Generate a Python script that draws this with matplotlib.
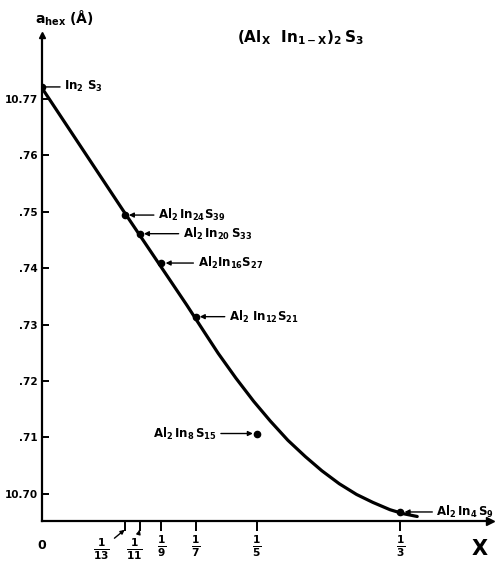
import matplotlib
matplotlib.use('Agg')
import matplotlib.pyplot as plt

plt.rcParams['mathtext.default'] = 'bf'
plt.rcParams['font.weight'] = 'bold'

# measured compositions (x = Al fraction) and lattice parameter a_hex in Angstrom
compound_x = [0, 1/13, 1/11, 1/9, 1/7, 1/5, 1/3]
compound_a = [10.7721, 10.7494, 10.7461, 10.7409, 10.7314, 10.7107, 10.6968]
compound_names = [r'$In_2\ S_3$', r'$Al_2\,In_{24}S_{39}$', r'$Al_2\,In_{20}\,S_{33}$',
                  r'$Al_2In_{16}S_{27}$', r'$Al_2\ In_{12}S_{21}$', r'$Al_2\,In_8\,S_{15}$',
                  r'$Al_2\,In_4\,S_9$']

# the drawn trend curve
curve_x = [0.000, 0.0762, 0.1345, 0.1512, 0.1639, 0.1804, 0.1969, 0.2124, 0.2287,
           0.2450, 0.2603, 0.2765, 0.2926, 0.3077, 0.3237, 0.3359, 0.3490]
curve_a = [10.7719, 10.7500, 10.7335, 10.7286, 10.7249, 10.7205, 10.7164, 10.7129, 10.7095,
           10.7066, 10.7041, 10.7018, 10.6999, 10.6985, 10.6972, 10.6965, 10.6960]

x_ticks = [1/13, 1/11, 1/9, 1/7, 1/5, 1/3]
x_tick_labels = [r'$\frac{1}{13}$', r'$\frac{1}{11}$', r'$\frac{1}{9}$',
                 r'$\frac{1}{7}$', r'$\frac{1}{5}$', r'$\frac{1}{3}$']
y_ticks = [10.70, 10.71, 10.72, 10.73, 10.74, 10.75, 10.76, 10.77]
y_tick_labels = ['10.70', '.71', '.72', '.73', '.74', '.75', '.76', '10.77']

# label offsets in points (text relative to its point)
label_dx = [16, 24, 31, 26, 24, -29, 26]

fig = plt.figure(figsize=(4.95, 5.68), dpi=100)
ax = fig.add_axes([42/495, 47/568, 448/495, 486/568])

ax.plot(curve_x, curve_a, color='k', lw=2.3, solid_capstyle='round', solid_joinstyle='round')
ax.plot(compound_x, compound_a, 'o', color='k', ms=4.5)

for i, name in enumerate(compound_names):
    dx = label_dx[i]
    style = '-' if i == 0 else '-|>'
    ax.annotate(name, xy=(compound_x[i], compound_a[i]), xytext=(dx, 0),
                textcoords='offset points', fontsize=8.5, va='center',
                ha='left' if dx > 0 else 'right',
                arrowprops=dict(arrowstyle=style, color='k', lw=1,
                                mutation_scale=7, shrinkA=1, shrinkB=3))

ax.set_xlim(0, 0.4167)
ax.set_ylim(10.6952, 10.7813)

for s in ['top', 'right']:
    ax.spines[s].set_visible(False)
for s in ['left', 'bottom']:
    ax.spines[s].set_linewidth(1.6)
ax.plot(1, 0, '>k', ms=6, transform=ax.transAxes, clip_on=False)
ax.plot(0, 1, '^k', ms=5, transform=ax.transAxes, clip_on=False)

ax.set_yticks(y_ticks)
ax.set_yticklabels(y_tick_labels, fontsize=7.5, fontweight='bold')
ax.tick_params(axis='y', direction='in', length=5, width=1.4, pad=3)

ax.set_xticks(x_ticks)
ax.set_xticklabels([''] * 2 + x_tick_labels[2:], fontsize=11)
ax.tick_params(axis='x', direction='out', length=7, width=1.4, pad=2)

# crowded labels drawn off to the side with leader arrows
lead_dx = [-17, -4]
for i in range(2):
    ax.annotate(x_tick_labels[i], xy=(x_ticks[i], -0.018),
                xycoords=('data', 'axes fraction'), xytext=(lead_dx[i], -14),
                textcoords='offset points', fontsize=11, ha='center', va='center',
                arrowprops=dict(arrowstyle='-|>', color='k', lw=1,
                                mutation_scale=6, shrinkA=2, shrinkB=0))

ax.text(0, -0.05, '0', transform=ax.transAxes, ha='center', va='center', fontsize=9)
ax.text(0.978, -0.058, 'X', transform=ax.transAxes, ha='center', va='center',
        fontsize=15, fontweight='bold')
ax.text(0.05, 1.035, r'$a_{hex}$ (Å)', transform=ax.transAxes, ha='center',
        va='center', fontsize=10)
ax.text(0.576, 0.994, r'$(Al_X\ \ In_{1-X})_2\,S_3$', transform=ax.transAxes,
        ha='center', va='center', fontsize=11)

fig.savefig('out.png', dpi=100)
